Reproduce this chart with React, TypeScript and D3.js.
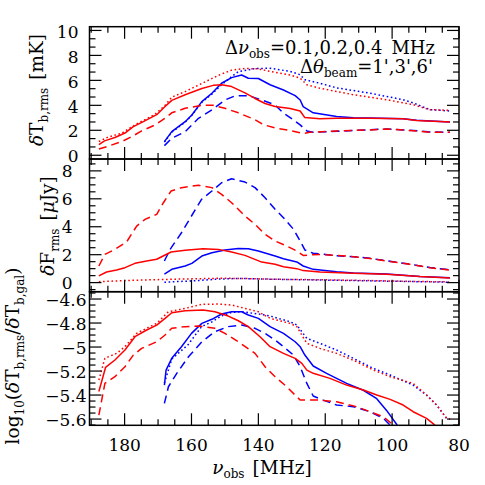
import React from 'react';
import * as d3 from 'd3';

type P = [number, number][];

// ---------- data (frequency MHz, value) ----------
const topRedSolid: P = [[187.7,0.85],[186,1.15],[182.9,1.42],[179.9,1.78],[177.4,2.3],[174.4,2.7],[170.4,3.25],[167.9,3.9],[165.9,4.4],[161.9,4.85],[156.9,5.35],[153.5,5.6],[151,5.65],[148,5.5],[144,5.0],[141,4.55],[138,4.15],[135,3.9],[130.5,3.75],[127.5,3.55],[126.1,3.02],[121.6,2.92],[116.6,2.96],[106.6,2.96],[96.7,2.92],[92.7,2.78],[82.7,2.66]];
const topRedDotted: P = [[187.7,1.1],[185,1.45],[180.9,1.76],[176.9,2.43],[170.9,3.29],[167.9,4.0],[165.9,4.65],[161.9,5.1],[156.9,5.75],[152,6.4],[148,6.82],[144,6.95],[140,6.92],[136.5,6.72],[130.5,6.43],[127.5,6.17],[125.5,5.65],[121.6,5.37],[111.6,4.85],[101.6,4.45],[93.7,4.05],[88.7,3.65],[82.7,3.6]];
const topRedDashed: P = [[187.7,0.5],[185,0.72],[180.9,1.09],[177.9,1.49],[174.9,1.95],[170.9,2.43],[167.9,2.96],[165.9,3.4],[161.9,3.76],[156.9,4.0],[153.5,4.0],[150,3.76],[146,3.4],[141,2.85],[138.5,2.45],[134.5,2.16],[130.5,1.99],[126.6,1.74],[124.6,1.84],[116.6,1.95],[106.6,2.03],[101.6,2.1],[93.7,1.97],[88.7,1.85],[82.7,1.84]];
const topBlueSolid: P = [[168.1,1.09],[165.9,1.89],[161.9,2.69],[159.9,3.23],[156.9,4.3],[153.9,4.97],[151,5.77],[148,6.22],[145,6.43],[143,6.17],[140,6.15],[136.5,5.65],[132.5,5.23],[129,4.78],[127.5,4.43],[126.6,3.9],[123.6,3.4],[116.6,3.1],[111.6,3.01],[106.6,2.98],[96.7,2.92],[92.7,2.8],[82.7,2.66]];
const topBlueDotted: P = [[168.1,1.05],[165.9,1.85],[161.9,2.65],[159.9,3.2],[156.9,4.25],[153.9,4.9],[151,5.65],[148,6.3],[146,6.7],[141,6.95],[136.5,6.97],[130.5,6.72],[127.5,6.45],[126.1,6.05],[121.6,5.77],[116.6,5.4],[106.6,4.97],[96.7,4.45],[93.7,4.2],[88.7,3.65],[82.7,3.55]];
const topBlueDashed: P = [[168.1,0.77],[165.9,1.36],[161.9,1.89],[157.9,2.96],[153.9,3.63],[150,4.43],[147,4.75],[143,4.78],[139,4.43],[135,4.03],[132.5,3.37],[129.5,2.83],[127.5,2.43],[125.5,1.95],[123.6,1.84],[116.6,1.92],[106.6,2.05],[101.6,2.1],[93.7,1.99],[88.7,1.86],[82.7,1.85]];

const midRedDashed: P = [[187.7,1.19],[185.9,2.02],[182.9,2.38],[179.4,2.91],[176.4,4.05],[173.9,4.53],[170.4,4.89],[168.4,5.72],[166.1,6.56],[163,6.8],[157.9,6.97],[153.9,6.8],[151,6.32],[148,5.72],[144,4.77],[141,4.17],[138,3.46],[135,2.98],[131.5,2.62],[128.5,2.26],[126.6,1.95],[121.6,2.02],[116.6,1.95],[111.6,1.86],[106.6,1.72],[101.6,1.55],[94.7,1.31],[88.7,1.07],[82.7,0.9]];
const midBlueDashed: P = [[168.1,1.55],[166.4,2.38],[163,3.57],[160,4.77],[157,5.96],[153.9,6.56],[151,7.15],[148,7.44],[144,7.2],[141,6.8],[138,6.08],[135,5.25],[132.5,4.65],[129.5,3.82],[127.5,2.98],[126.1,2.34],[123.6,2.1],[116.6,1.93],[111.6,1.86],[106.6,1.74],[101.6,1.56],[94.7,1.32],[88.7,1.08],[82.7,0.92]];
const midRedSolid: P = [[187.7,0.48],[185.4,0.76],[182.4,0.9],[179.9,1.07],[176.9,1.38],[173.4,1.55],[170.4,1.67],[166.1,2.19],[161.9,2.31],[156.5,2.43],[152,2.38],[148,2.19],[144,1.95],[139,1.47],[135,1.31],[132.5,1.14],[128.5,1.0],[126.6,0.86],[121.6,0.76],[111.6,0.67],[101.6,0.6],[91.7,0.43],[82.7,0.33]];
const midBlueSolid: P = [[168.1,0.6],[165.9,0.95],[161.9,1.19],[159.9,1.38],[156.9,1.9],[153.9,2.14],[150,2.33],[146,2.45],[143,2.43],[140,2.26],[135,1.9],[132.5,1.71],[128.5,1.48],[126.6,1.19],[123.6,0.95],[116.6,0.77],[111.6,0.68],[101.6,0.61],[91.7,0.44],[82.7,0.34]];
const midRedDotted: P = [[187.7,0.07],[176.9,0.17],[165.9,0.24],[152,0.31],[145,0.3],[135,0.24],[120,0.2],[105,0.14],[95,0.09],[82.7,0.05]];
const midBlueDotted: P = [[168.1,0.03],[160,0.12],[152,0.25],[146,0.3],[135,0.24],[120,0.18],[105,0.12],[95,0.08],[82.7,0.03]];

const botRedSolid: P = [[187.7,-5.37],[185.7,-5.17],[182.9,-5.108],[179.9,-5.025],[176.9,-4.914],[173.4,-4.858],[170.4,-4.817],[167.9,-4.761],[165.9,-4.714],[161.9,-4.697],[156.5,-4.692],[153,-4.706],[149,-4.742],[146,-4.781],[143,-4.83],[139.5,-4.914],[136.5,-4.997],[132.5,-5.053],[129,-5.094],[127,-5.136],[125.5,-5.192],[123.6,-5.219],[118.6,-5.261],[113.6,-5.317],[108.6,-5.358],[104.6,-5.4],[100.6,-5.436],[96.7,-5.483],[93.7,-5.539],[89.7,-5.594],[87.2,-5.65]];
const botRedDotted: P = [[187.7,-5.275],[185.9,-5.094],[182.4,-5.053],[179.9,-4.997],[176.4,-4.886],[172.9,-4.836],[170.4,-4.803],[166.9,-4.706],[161.9,-4.678],[156.9,-4.644],[152,-4.642],[148,-4.65],[144,-4.678],[140,-4.706],[136.5,-4.761],[130.5,-4.803],[128.5,-4.83],[125.5,-4.969],[121.6,-5.011],[116.6,-5.053],[110.6,-5.122],[105.6,-5.192],[100.6,-5.247],[93.7,-5.303],[89.7,-5.4],[86.7,-5.483],[83.7,-5.594],[82.7,-5.6]];
const botRedDashed: P = [[187.7,-5.567],[185.9,-5.303],[182.9,-5.247],[179.9,-5.164],[177.4,-5.067],[174.9,-5.011],[170.4,-4.956],[167.9,-4.9],[165.9,-4.844],[161.9,-4.83],[157.9,-4.825],[153,-4.844],[150,-4.886],[146,-4.956],[141,-5.053],[138,-5.164],[135,-5.247],[131.5,-5.331],[127.5,-5.442],[125.5,-5.442],[121.6,-5.442],[116.6,-5.456],[110.6,-5.497],[106.6,-5.539],[102.6,-5.581],[99.6,-5.65]];
const botBlueSolid: P = [[168.1,-5.317],[167.6,-5.192],[165.9,-5.094],[163,-4.997],[160,-4.886],[156.9,-4.803],[153.9,-4.769],[151,-4.725],[148,-4.706],[145,-4.706],[143,-4.733],[140,-4.761],[136.5,-4.83],[132.5,-4.886],[129,-4.956],[127.5,-4.997],[126.1,-5.067],[123.6,-5.158],[119.6,-5.219],[113.6,-5.303],[108.6,-5.36],[104.6,-5.43],[101.6,-5.53],[98.5,-5.65]];
const botBlueDotted: P = [[168.1,-5.3],[165.9,-5.1],[161,-4.98],[157,-4.83],[153.9,-4.79],[151,-4.74],[148,-4.712],[145,-4.705],[140,-4.725],[136.5,-4.742],[130.5,-4.789],[128.5,-4.817],[125.5,-4.928],[121.6,-4.969],[116.6,-5.025],[110.6,-5.108],[105.6,-5.178],[100.6,-5.233],[93.7,-5.317],[89.7,-5.4],[86.7,-5.483],[83.7,-5.594],[82.7,-5.6]];
const botBlueDashed: P = [[168.1,-5.469],[166.9,-5.331],[164.4,-5.219],[160.9,-5.081],[156.9,-4.956],[153,-4.872],[149,-4.83],[145,-4.817],[141,-4.844],[138,-4.886],[135,-4.942],[132.5,-4.997],[129.5,-5.067],[127.5,-5.164],[125.5,-5.303],[123.6,-5.408],[120.6,-5.442],[116.6,-5.483],[111.6,-5.497],[106.6,-5.539],[102.6,-5.594],[100.6,-5.65]];

const xTickLabels = [180, 160, 140, 120, 100, 80];
const topTickLabels = [0, 2, 4, 6, 8, 10];
const midTickLabels = [0, 2, 4, 6, 8];
const botTickLabels = [-5.6, -5.4, -5.2, -5, -4.8, -4.6];

// ---------- layout ----------
const LEFT = 89.5, RIGHT = 459;
const FONT = '"DejaVu Serif", serif';
const RED = '#ff0000', BLUE = '#0000ff';
const DASH = '8,5', DOT = '1.6,2.6';
const TICK_FS = 17;
const LABEL_FS = 18.5;

const x = d3.scaleLinear().domain([190.5, 80]).range([LEFT, RIGHT]);

interface PanelDef {
  top: number; bottom: number; domain: [number, number];
  minor: number; major: number[]; labelRight: number; labelDy: number;
  series: { data: P; color: string; dash?: string }[];
  fmt: (v: number) => string;
  xLabels: boolean;
}

const minus = (v: number) => (v < 0 ? '\u2212' + String(Math.abs(v)) : String(v));

const panels: PanelDef[] = [
  {
    top: 26.7, bottom: 159, domain: [-0.3, 10.3], minor: 2 / 3, major: topTickLabels, labelRight: 78.5, labelDy: 7.2,
    fmt: minus, xLabels: false,
    series: [
      { data: topBlueDotted, color: BLUE, dash: DOT },
      { data: topBlueDashed, color: BLUE, dash: DASH },
      { data: topBlueSolid, color: BLUE },
      { data: topRedDotted, color: RED, dash: DOT },
      { data: topRedDashed, color: RED, dash: DASH },
      { data: topRedSolid, color: RED },
    ],
  },
  {
    top: 159, bottom: 291.7, domain: [-0.65, 8.85], minor: 0.5, major: midTickLabels, labelRight: 72.5, labelDy: 6,
    fmt: minus, xLabels: false,
    series: [
      { data: midBlueDotted, color: BLUE, dash: DOT },
      { data: midBlueDashed, color: BLUE, dash: DASH },
      { data: midBlueSolid, color: BLUE },
      { data: midRedDotted, color: RED, dash: DOT },
      { data: midRedDashed, color: RED, dash: DASH },
      { data: midRedSolid, color: RED },
    ],
  },
  {
    top: 291.7, bottom: 425.3, domain: [-5.652, -4.539], minor: 0.05, major: botTickLabels, labelRight: 86.5, labelDy: 7.2,
    fmt: minus, xLabels: true,
    series: [
      { data: botBlueDotted, color: BLUE, dash: DOT },
      { data: botBlueDashed, color: BLUE, dash: DASH },
      { data: botBlueSolid, color: BLUE },
      { data: botRedDotted, color: RED, dash: DOT },
      { data: botRedDashed, color: RED, dash: DASH },
      { data: botRedSolid, color: RED },
    ],
  },
];

function Panel({ p, idx }: { p: PanelDef; idx: number }) {
  const y = d3.scaleLinear().domain(p.domain).range([p.bottom, p.top]);
  const line = d3.line<[number, number]>().x(d => x(d[0])).y(d => y(d[1]));
  const clipId = `clip${idx}`;
  const yMinor: number[] = [];
  const start = Math.ceil((p.domain[0] - 1e-9) / p.minor);
  for (let k = start; k * p.minor <= p.domain[1] + 1e-9; k++) yMinor.push(k * p.minor);
  const isMajorY = (v: number) => p.major.some(m => Math.abs(m - v) < 1e-6);
  const xTicks: number[] = [];
  for (let v = 80; v <= 190; v += 5) xTicks.push(v);
  const isMajorX = (v: number) => v % 20 === 0;
  const ML = 12, MN = 6;
  return (
    <g>
      <defs>
        <clipPath id={clipId}>
          <rect x={LEFT} y={p.top} width={RIGHT - LEFT} height={p.bottom - p.top} />
        </clipPath>
      </defs>
      <g clipPath={`url(#${clipId})`} fill="none" strokeWidth={1.5} strokeLinejoin="round">
        {p.series.map((s, i) => (
          <path key={i} d={line(s.data) || ''} stroke={s.color} strokeDasharray={s.dash} />
        ))}
      </g>
      <g stroke="#000" strokeWidth={1.2}>
        {yMinor.map((v, i) => {
          const len = isMajorY(v) ? ML : MN;
          const yy = y(v);
          return (
            <g key={'y' + i}>
              <line x1={LEFT} x2={LEFT + len} y1={yy} y2={yy} />
              <line x1={RIGHT} x2={RIGHT - len} y1={yy} y2={yy} />
            </g>
          );
        })}
        {xTicks.map((v, i) => {
          const len = isMajorX(v) ? ML : MN;
          const xx = x(v);
          return (
            <g key={'x' + i}>
              <line x1={xx} x2={xx} y1={p.bottom} y2={p.bottom - len} />
              <line x1={xx} x2={xx} y1={p.top} y2={p.top + len} />
            </g>
          );
        })}
      </g>
      <rect x={LEFT} y={p.top} width={RIGHT - LEFT} height={p.bottom - p.top} fill="none" stroke="#000" strokeWidth={1.5} />
      <g fontFamily={FONT} fontSize={TICK_FS} fill="#000" textAnchor="end">
        {p.major.map((v, i) => (
          <text key={i} x={p.labelRight} y={y(v) + p.labelDy}>{p.fmt(v)}</text>
        ))}
      </g>
      {p.xLabels && (
        <g fontFamily={FONT} fontSize={TICK_FS} fill="#000" textAnchor="middle">
          {xTickLabels.map((v, i) => (
            <text key={i} x={x(v)} y={450.5}>{v}</text>
          ))}
        </g>
      )}
    </g>
  );
}

export default function App() {
  const sub = { fontSize: 12 } as const;
  return (
    <svg width={485} height={485} style={{ position: 'absolute', left: 0, top: 0, background: '#fff' }}>
      <rect x={0} y={0} width={485} height={485} fill="#fff" />
      {panels.map((p, i) => <Panel key={i} p={p} idx={i} />)}

      {/* legend text */}
      <g fontFamily={FONT} fontSize={18} fill="#000" textAnchor="end">
        <text x={435} y={53.5}>
          <tspan>Δ</tspan><tspan fontStyle="italic">ν</tspan>
          <tspan dy={4.5} {...sub}>obs</tspan>
          <tspan dy={-4.5}>=0.1,0.2,0.4</tspan>
          <tspan dx={9}>MHz</tspan>
        </text>
        <text x={433} y={72.5}>
          <tspan>Δ</tspan><tspan fontStyle="italic">θ</tspan>
          <tspan dy={4.5} {...sub}>beam</tspan>
          <tspan dy={-4.5}>=1',3',6'</tspan>
        </text>
      </g>

      {/* axis labels */}
      <g fontFamily={FONT} fontSize={LABEL_FS} fill="#000" textAnchor="middle">
        <text transform="translate(43,90) rotate(-90)">
          <tspan fontStyle="italic">δ</tspan><tspan>T</tspan>
          <tspan dy={4.5} {...sub}>b,rms</tspan>
          <tspan dy={-4.5} dx={8}>[mK]</tspan>
        </text>
        <text transform="translate(54,226) rotate(-90)">
          <tspan fontStyle="italic">δ</tspan><tspan>F</tspan>
          <tspan dy={4.5} {...sub}>rms</tspan>
          <tspan dy={-4.5} dx={8}>[</tspan><tspan fontStyle="italic">μ</tspan><tspan>Jy]</tspan>
        </text>
        <text transform="translate(19,356) rotate(-90)">
          <tspan>log</tspan>
          <tspan dy={4.5} {...sub}>10</tspan>
          <tspan dy={-4.5}>(</tspan><tspan fontStyle="italic">δ</tspan><tspan>T</tspan>
          <tspan dy={4.5} {...sub}>b,rms</tspan>
          <tspan dy={-4.5}>/</tspan><tspan fontStyle="italic">δ</tspan><tspan>T</tspan>
          <tspan dy={4.5} {...sub}>b,gal</tspan>
          <tspan dy={-4.5}>)</tspan>
        </text>
        <text x={262} y={473.5}>
          <tspan fontStyle="italic">ν</tspan>
          <tspan dy={4.5} {...sub}>obs</tspan>
          <tspan dy={-4.5} dx={8}>[MHz]</tspan>
        </text>
      </g>
    </svg>
  );
}
